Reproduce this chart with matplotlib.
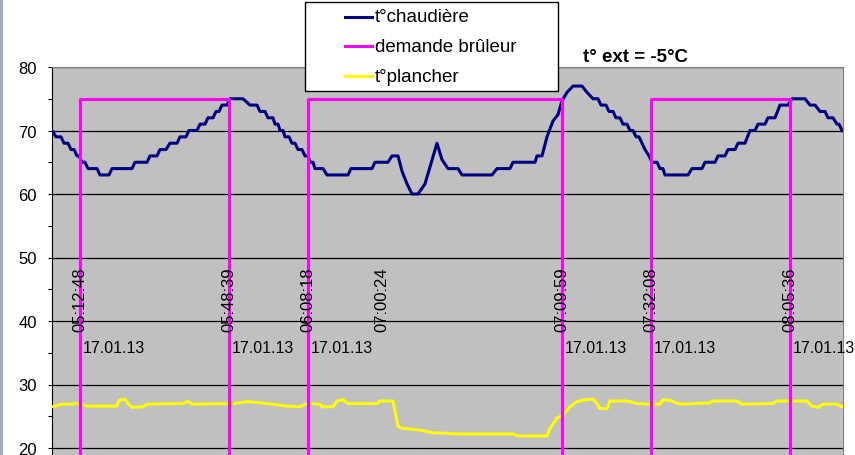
"""Boiler / burner / floor temperatures on 17.01.13 with t° ext = -5°C (Excel-style line chart)."""

import matplotlib
matplotlib.use("Agg")
import matplotlib.pyplot as plt
from matplotlib.lines import Line2D
from matplotlib.patches import Rectangle
from matplotlib.ticker import MultipleLocator

plt.rcParams["font.family"] = ["Liberation Sans", "DejaVu Sans"]

# category axis: sample index along the log
N_SAMPLES = 791

# t° chaudière, breakpoints (sample, °C)
boiler_x = [0, 4, 9, 12, 16, 19, 22, 25, 27, 30, 33, 36, 45, 48, 57, 60, 80, 83, 95, 98,
            105, 108, 114, 118, 125, 128, 134, 137, 145, 148, 153, 156, 161, 164, 167, 170,
            175, 178, 191, 198, 205, 208, 213, 216, 221, 223, 226, 228, 231, 233, 237, 240,
            243, 246, 250, 253, 256, 258, 261, 263, 271, 275, 296, 299, 320, 323, 336, 340,
            346, 350, 355, 360, 366, 373, 385, 390, 396, 406, 410, 440, 445, 458, 461, 483,
            485, 490, 495, 501, 506, 510, 515, 521, 530, 535, 541, 546, 549, 554, 557, 561,
            564, 568, 571, 575, 578, 581, 584, 587, 590, 593, 597, 600, 605, 608, 611, 613,
            636, 640, 650, 653, 663, 666, 673, 676, 683, 686, 693, 698, 703, 706, 713, 716,
            723, 728, 736, 740, 753, 758, 763, 768, 773, 776, 781, 785, 787, 790]
boiler_y = [70, 69, 69, 68, 68, 67, 67, 66, 66, 65, 65, 64, 64, 63, 63, 64, 64, 65, 65, 66,
            66, 67, 67, 68, 68, 69, 69, 70, 70, 71, 71, 72, 72, 73, 73, 74,
            74, 75, 75, 74, 74, 73, 73, 72, 72, 71, 71, 70, 70, 69, 69, 68,
            68, 67, 67, 66, 66, 65, 65, 64, 64, 63, 63, 64, 64, 65, 65, 66,
            66, 63.6, 61.6, 60, 60, 61.6, 68, 65.4, 64, 64, 63, 63, 64, 64, 65, 65,
            66, 66, 69, 71.5, 72.5, 74.7, 76, 77, 77, 76, 75, 75, 74, 74, 73, 73,
            72, 72, 71, 71, 70, 70, 69, 69, 68, 67, 66, 65, 65, 64, 64, 63,
            63, 64, 64, 65, 65, 66, 66, 67, 67, 68, 68, 70, 70, 71, 71, 72,
            72, 74, 74, 75, 75, 74, 74, 73, 73, 72, 72, 71, 71, 70]

# demande brûleur: 75 when the burner is asked for, 0 otherwise
burner_on = [28, 256, 599]
burner_off = [177, 510, 738]
BURNER_LEVEL = 75

# t° plancher, breakpoints (sample, °C)
floor_x = [0, 10, 20, 25, 35, 65, 67, 73, 76, 80, 91, 95, 131, 136, 140, 181, 196, 215,
           235, 248, 255, 268, 270, 281, 285, 291, 296, 325, 328, 341, 346, 350, 365, 381,
           408, 461, 466, 495, 498, 505, 511, 518, 525, 533, 541, 545, 548, 555, 558, 575,
           585, 598, 608, 611, 618, 628, 658, 661, 685, 690, 721, 725, 755, 760, 766, 771,
           785, 790]
floor_y = [26.5, 26.9, 26.9, 27, 26.6, 26.6, 27.5, 27.7, 27, 26.4, 26.5, 26.9, 27, 27.4,
           26.9, 27, 27.3, 27, 26.6, 26.5, 27, 26.9, 26.5, 26.5, 27.4, 27.6, 27, 27, 27.4,
           27.4, 23.4, 23.1, 22.9, 22.4, 22.2, 22.2, 21.9, 21.9, 23.1, 24.7, 25.2, 26.5,
           27.3, 27.6, 27.7, 27, 26.2, 26.2, 27.4, 27.4, 27, 26.9, 26.9, 27.6, 27.5, 26.9,
           27.1, 27.4, 27.4, 26.9, 27, 27.4, 27.4, 26.6, 26.4, 26.9, 26.9, 26.5]

# labelled categories
tick_pos = [28, 177, 256, 330, 510, 599, 738]
tick_time = ["05:12:48", "05:48:39", "06:08:18", "07:00:24", "07:09:59", "07:32:08", "08:05:36"]
tick_date = ["17.01.13", "17.01.13", "17.01.13", "", "17.01.13", "17.01.13", "17.01.13"]

W, H = 855, 456
fig = plt.figure(figsize=(W / 100, H / 100), dpi=100)
fig.patch.set_facecolor("white")

# plot area: x 52..843 px, 80 °C at y=68 px, 6.35 px per °C (cut at the bottom like the source)
ymin, ymax = 0, 80
top_px, px_per_deg = 68, 6.35
bottom_px = top_px + (ymax - ymin) * px_per_deg
ax = fig.add_axes([52 / W, 1 - bottom_px / H, 791 / W, (bottom_px - top_px) / H])
ax.set_facecolor("#c0c0c0")
ax.set_xlim(0, N_SAMPLES)
ax.set_ylim(ymin, ymax)

ax.yaxis.set_major_locator(MultipleLocator(10))
ax.yaxis.set_minor_locator(MultipleLocator(5))
ax.tick_params(axis="y", which="major", length=3, width=0.8, pad=8, labelsize=12)
ax.tick_params(axis="y", which="minor", length=3, width=0.8)
ax.set_xticks([])
ax.grid(True, axis="y", which="major", color="black", lw=0.9)
ax.set_axisbelow(True)
for side in ("top", "right"):
    ax.spines[side].set_color("#808080")
ax.spines["left"].set_color("black")
ax.spines["bottom"].set_visible(False)

lw = 2.2
ax.plot(boiler_x, boiler_y, color="#000080", lw=lw, zorder=3)
ax.plot(floor_x, floor_y, color="#ffff00", lw=lw, zorder=4)

demand_x, demand_y = [0], [0]
for on, off in zip(burner_on, burner_off):
    demand_x += [on, on, off, off]
    demand_y += [0, BURNER_LEVEL, BURNER_LEVEL, 0]
demand_x.append(N_SAMPLES)
demand_y.append(0)
ax.plot(demand_x, demand_y, color="#ff00ff", lw=lw, zorder=5)

for x, t, d in zip(tick_pos, tick_time, tick_date):
    ax.text(x, 38.45, t, rotation=90, ha="center", va="bottom", fontsize=12, zorder=6)
    if d:
        ax.text(x + 2.5, 35.75, d, ha="left", va="center", fontsize=11.5, zorder=6)

fig.text(583 / W, 1 - 57 / H, "t° ext = -5°C", fontsize=13.5, fontweight="bold",
         ha="left", va="center")

# Excel-style legend box
fig.add_artist(Rectangle((305 / W, 1 - 92 / H), 253 / W, 89 / H, transform=fig.transFigure,
                         facecolor="white", edgecolor="black", lw=1.0, zorder=10))
legend = [("t°chaudière", "#000080", 18), ("demande brûleur", "#ff00ff", 47),
          ("t°plancher", "#ffff00", 77)]
for label, color, ypx in legend:
    y = 1 - ypx / H
    fig.add_artist(Line2D([345 / W, 372 / W], [y, y], transform=fig.transFigure,
                          color=color, lw=lw, zorder=11))
    fig.text(375 / W, y, label, fontsize=13.5, ha="left", va="center", zorder=12)

# thin window border on the far left
fig.add_artist(Rectangle((0, 0), 3 / W, 1, transform=fig.transFigure,
                         facecolor="#a3abc2", edgecolor="none", zorder=10))

fig.savefig("out.png", dpi=100)
